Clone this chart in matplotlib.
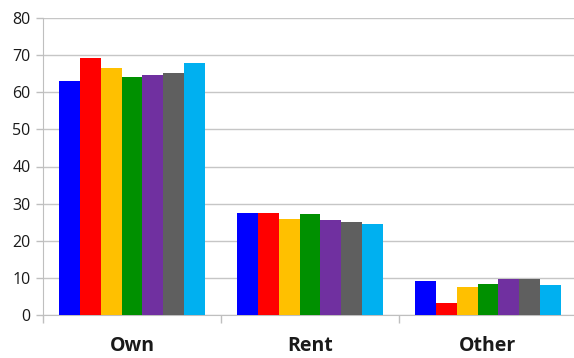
import matplotlib
matplotlib.use("Agg")
import matplotlib.pyplot as plt
import numpy as np

categories = ["Own", "Rent", "Other"]
series_1 = [63.0, 27.6, 9.2]
series_2 = [69.2, 27.6, 3.1]
series_3 = [66.6, 25.9, 7.5]
series_4 = [64.2, 27.2, 8.4]
series_5 = [64.7, 25.6, 9.8]
series_6 = [65.3, 25.0, 9.7]
series_7 = [67.8, 24.5, 8.1]
y_ticks = [0, 10, 20, 30, 40, 50, 60, 70, 80]

series = [series_1, series_2, series_3, series_4, series_5, series_6, series_7]
colors = ["#0000FF", "#FF0000", "#FFC000", "#009000", "#7030A0", "#5F5F5F", "#00B0F0"]

plt.rcParams["font.family"] = ["Open Sans", "DejaVu Sans"]

fig = plt.figure(figsize=(5.74, 3.58), dpi=100)
ax = fig.add_axes([43 / 574, 43 / 358, 534 / 574, 297 / 358])

x = np.arange(len(categories))
group_w = 0.82
bw = group_w / len(series)
for i, (vals, c) in enumerate(zip(series, colors)):
    ax.bar(x - group_w / 2 + bw * (i + 0.5), vals, width=bw, color=c, zorder=3, linewidth=0)

ax.set_xlim(-0.5, len(categories) - 0.5)
ax.set_ylim(0, 80)
ax.set_yticks(y_ticks)
ax.tick_params(axis="y", labelsize=11.5, colors="#BFBFBF", labelcolor="#1a1a1a", length=5, width=1, pad=4)
ax.yaxis.grid(True, color="#C6C6C6", linewidth=1, zorder=0)

# category boundary ticks on x axis, labels centred in each category
ax.set_xticks(np.arange(-0.5, len(categories), 1.0))
ax.set_xticklabels([])
ax.set_xticks(x, minor=True)
ax.set_xticklabels(categories, minor=True, fontsize=14, fontweight="bold")
ax.tick_params(axis="x", which="major", length=6, width=1, colors="#BFBFBF")
ax.tick_params(axis="x", which="minor", length=0, pad=15, labelcolor="#1a1a1a")

for s in ["top", "right"]:
    ax.spines[s].set_visible(False)
ax.spines["left"].set_color("#BFBFBF")
ax.spines["bottom"].set_color("#BFBFBF")

fig.savefig("out.png", dpi=100)
